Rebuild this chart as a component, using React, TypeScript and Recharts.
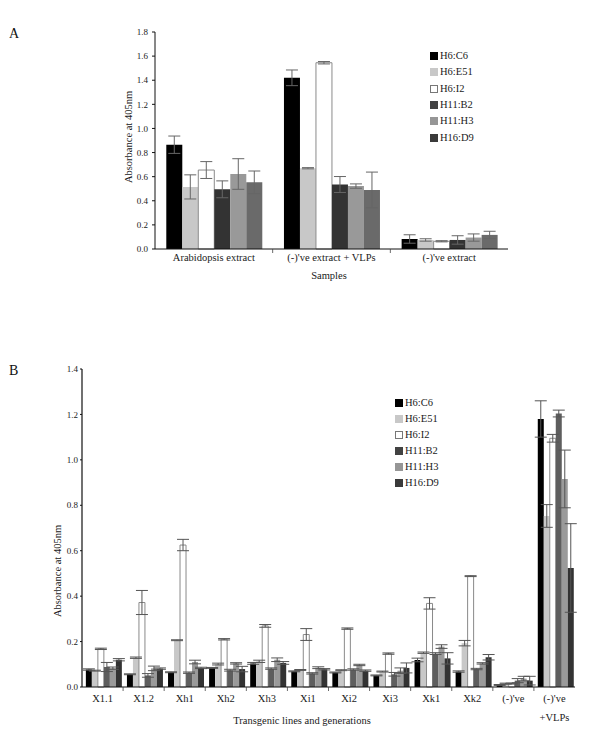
import React from 'react';
import { BarChart, Bar, XAxis, YAxis, ErrorBar } from 'recharts';

const FONT = '"Liberation Serif", "Times New Roman", Times, serif';

const seriesNames = ['H6:C6', 'H6:E51', 'H6:I2', 'H11:B2', 'H11:H3', 'H16:D9'];

// ---- Panel A ----
const catsA = ['Arabidopsis extract', "(-)'ve extract + VLPs", "(-)'ve extract"];
const a_C6 = [0.865, 1.42, 0.083];
const a_E51 = [0.515, 0.67, 0.075];
const a_I2 = [0.655, 1.545, 0.064];
const a_B2 = [0.495, 0.535, 0.075];
const a_H3 = [0.622, 0.522, 0.095];
const a_D9 = [0.553, 0.49, 0.117];
const ea_C6 = [0.072, 0.065, 0.035];
const ea_E51 = [0.1, 0.005, 0.01];
const ea_I2 = [0.07, 0.01, 0.005];
const ea_B2 = [0.07, 0.066, 0.035];
const ea_H3 = [0.127, 0.018, 0.03];
const ea_D9 = [0.094, 0.148, 0.03];
const ticksA = [0, 0.2, 0.4, 0.6, 0.8, 1.0, 1.2, 1.4, 1.6, 1.8];

// ---- Panel B ----
const catsB = ['X1.1', 'X1.2', 'Xh1', 'Xh2', 'Xh3', 'Xi1', 'Xi2', 'Xi3', 'Xk1', 'Xk2', "(-)'ve", "(-)'ve\n+VLPs"];
const b_C6 = [0.077, 0.056, 0.065, 0.084, 0.104, 0.069, 0.064, 0.051, 0.119, 0.068, 0.009, 1.18];
const b_E51 = [0.072, 0.129, 0.206, 0.101, 0.113, 0.075, 0.074, 0.068, 0.151, 0.193, 0.015, 0.753];
const b_I2 = [0.168, 0.372, 0.625, 0.21, 0.269, 0.231, 0.257, 0.147, 0.368, 0.488, 0.015, 1.095];
const b_B2 = [0.088, 0.051, 0.063, 0.074, 0.081, 0.06, 0.077, 0.056, 0.147, 0.079, 0.028, 1.204];
const b_H3 = [0.083, 0.082, 0.11, 0.104, 0.12, 0.085, 0.097, 0.072, 0.178, 0.104, 0.037, 0.916];
const b_D9 = [0.12, 0.081, 0.084, 0.079, 0.106, 0.078, 0.072, 0.084, 0.126, 0.131, 0.028, 0.524];
const eb_C6 = [0.003, 0.002, 0.002, 0.002, 0.004, 0.002, 0.002, 0.002, 0.008, 0.003, 0.002, 0.08];
const eb_E51 = [0.002, 0.003, 0.002, 0.004, 0.005, 0.002, 0.002, 0.002, 0.003, 0.012, 0.002, 0.05];
const eb_I2 = [0.003, 0.053, 0.025, 0.003, 0.006, 0.026, 0.003, 0.003, 0.025, 0.002, 0.002, 0.017];
const eb_B2 = [0.02, 0.008, 0.003, 0.004, 0.003, 0.003, 0.003, 0.008, 0.004, 0.003, 0.009, 0.015];
const eb_H3 = [0.005, 0.01, 0.008, 0.003, 0.008, 0.004, 0.003, 0.012, 0.008, 0.003, 0.01, 0.127];
const eb_D9 = [0.005, 0.003, 0.003, 0.012, 0.006, 0.003, 0.003, 0.022, 0.025, 0.012, 0.019, 0.195];
const ticksB = [0, 0.2, 0.4, 0.6, 0.8, 1.0, 1.2, 1.4];

const colorsA = ['#000000', '#c8c8c8', '#ffffff', '#333333', '#999999', '#6a6a6a'];
const colorsB = ['#000000', '#c8c8c8', '#ffffff', '#5e5e5e', '#9a9a9a', '#333333'];
const legendColors = ['#000000', '#c8c8c8', '#ffffff', '#424242', '#969696', '#3a3a3a'];

function buildTable(cats: string[], vals: number[][], errs: number[][]) {
  return cats.map((c, ci) => {
    const row: any = { cat: c };
    vals.forEach((v, si) => {
      row['s' + si] = v[ci];
      row['e' + si] = errs[si][ci];
    });
    return row;
  });
}

const dataA = buildTable(catsA, [a_C6, a_E51, a_I2, a_B2, a_H3, a_D9], [ea_C6, ea_E51, ea_I2, ea_B2, ea_H3, ea_D9]);
const dataB = buildTable(catsB, [b_C6, b_E51, b_I2, b_B2, b_H3, b_D9], [eb_C6, eb_E51, eb_I2, eb_B2, eb_H3, eb_D9]);

const CatTick = (props: any) => {
  const { x, y, payload, index, base, lineGap } = props;
  const half = payload && payload.offset ? payload.offset : 0;
  const lines = String(payload.value).split('\n');
  return (
    <g>
      {index > 0 && half > 0 ? (
        <line x1={x - half} x2={x - half} y1={y} y2={y + 4} stroke="#444" strokeWidth={0.8} />
      ) : null}
      <text x={x} y={y + base} textAnchor="middle" fontFamily={FONT} fontSize={10.5} fill="#1a1a1a">
        {lines.map((l: string, i: number) => (
          <tspan key={i} x={x} dy={i === 0 ? 0 : lineGap}>{l}</tspan>
        ))}
      </text>
    </g>
  );
};

const Legendish = ({ left, top, gap }: { left: number; top: number; gap: number }) => (
  <div style={{ position: 'absolute', left, top }}>
    {seriesNames.map((n, i) => (
      <div key={n} style={{ position: 'absolute', left: 0, top: i * gap, whiteSpace: 'nowrap', height: 12 }}>
        <div style={{ position: 'absolute', left: 0, top: 2, width: 6, height: 6, background: legendColors[i], border: '0.8px solid ' + (i === 2 ? '#777' : legendColors[i]) }} />
        <span style={{ position: 'absolute', left: 10, top: 0, fontFamily: FONT, fontSize: 10.5, lineHeight: '12px', color: '#1a1a1a' }}>{n}</span>
      </div>
    ))}
  </div>
);

const fmt = (v: number) => v.toFixed(1);

export default function App() {
  return (
    <div style={{ position: 'absolute', left: 0, top: 0, width: 600, height: 734, background: '#fff', overflow: 'hidden' }}>
      <div style={{ position: 'absolute', left: 0, top: 0 }}>
        <BarChart width={600} height={300} data={dataA} margin={{ top: 32, right: 92, left: 115, bottom: 21 }} barCategoryGap="9.6%" barGap={0}>
          <XAxis dataKey="cat" interval={0} tickLine={false} tickSize={0} tickMargin={0} height={30} axisLine={{ stroke: '#111', strokeWidth: 1 }}
            tick={<CatTick base={12} lineGap={15} />} />
          <YAxis type="number" domain={[0, 1.8]} ticks={ticksA} tickFormatter={fmt} width={40} tickSize={3} tickMargin={4}
            axisLine={{ stroke: '#111', strokeWidth: 1 }} tickLine={{ stroke: '#111' }}
            tick={{ fontFamily: FONT, fontSize: 9, fill: '#222' }} />
          {seriesNames.map((n, i) => (
            <Bar key={n} dataKey={'s' + i} name={n} fill={colorsA[i]} stroke={i === 2 ? '#8a8a8a' : 'none'} strokeWidth={1} isAnimationActive={false}>
              <ErrorBar dataKey={'e' + i} width={6} stroke="#666" strokeWidth={1} />
            </Bar>
          ))}
        </BarChart>
      </div>
      <div style={{ position: 'absolute', left: 0, top: 330 }}>
        <BarChart width={600} height={404} data={dataB} margin={{ top: 39, right: 25, left: 42, bottom: 17 }} barCategoryGap="9.4%" barGap={0}>
          <XAxis dataKey="cat" interval={0} tickLine={false} tickSize={0} tickMargin={0} height={30} axisLine={{ stroke: '#111', strokeWidth: 1.2 }}
            tick={<CatTick base={15} lineGap={19} />} />
          <YAxis type="number" domain={[0, 1.4]} ticks={ticksB} tickFormatter={fmt} width={40} tickSize={2} tickMargin={2}
            axisLine={{ stroke: '#111', strokeWidth: 1.2 }} tickLine={{ stroke: '#111' }}
            tick={{ fontFamily: FONT, fontSize: 9, fill: '#222' }} />
          {seriesNames.map((n, i) => (
            <Bar key={n} dataKey={'s' + i} name={n} fill={colorsB[i]} stroke={i === 2 ? '#8a8a8a' : 'none'} strokeWidth={1} isAnimationActive={false}>
              <ErrorBar dataKey={'e' + i} width={6} stroke="#555" strokeWidth={1} />
            </Bar>
          ))}
        </BarChart>
      </div>
      <Legendish left={430} top={50} gap={16.3} />
      <Legendish left={395} top={397} gap={16} />
      <svg width={600} height={734} style={{ position: 'absolute', left: 0, top: 0, pointerEvents: 'none' }}>
        <text x={9} y={38} fontFamily={FONT} fontSize={14} fill="#111">A</text>
        <text x={9} y={375} fontFamily={FONT} fontSize={14} fill="#111">B</text>
        <text transform="translate(132,137) rotate(-90)" textAnchor="middle" fontFamily={FONT} fontSize={10.5} fill="#1a1a1a">Absorbance at 405nm</text>
        <text x={329} y={279} textAnchor="middle" fontFamily={FONT} fontSize={10.5} fill="#1a1a1a">Samples</text>
        <text transform="translate(61,571) rotate(-90)" textAnchor="middle" fontFamily={FONT} fontSize={10.5} fill="#1a1a1a">Absorbance at 405nm</text>
        <text x={302} y={724} textAnchor="middle" fontFamily={FONT} fontSize={10.5} fill="#1a1a1a">Transgenic lines and generations</text>
      </svg>
    </div>
  );
}
